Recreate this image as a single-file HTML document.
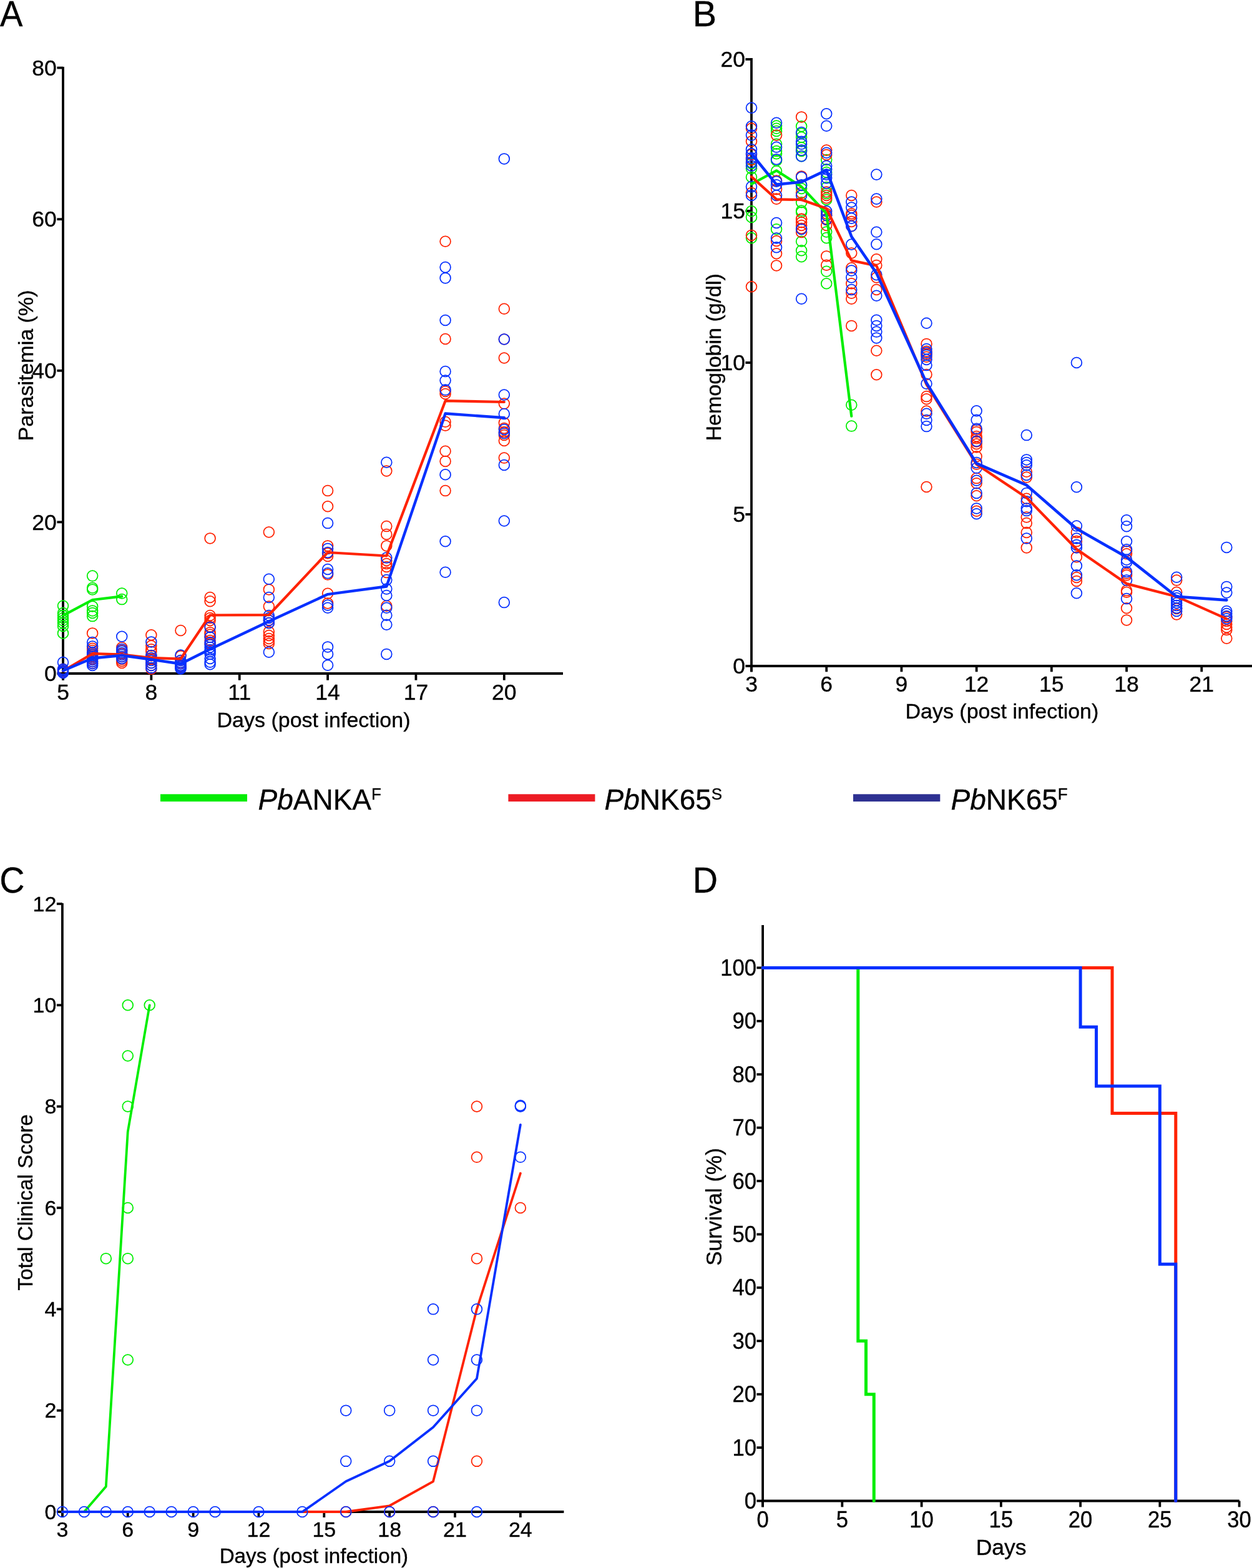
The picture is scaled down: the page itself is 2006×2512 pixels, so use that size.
<!DOCTYPE html><html><head><meta charset="utf-8"><title>Figure</title>
<style>html,body{margin:0;padding:0;background:#fff;overflow:hidden;}svg{display:block;}text{font-family:'Liberation Sans', Arial, Helvetica, sans-serif;fill:#000;stroke:#000;stroke-width:0.35px;}</style></head><body>
<svg width="2006" height="2512" viewBox="0 0 2006 2512">
<rect width="2006" height="2512" fill="#fff"/>
<text font-size="57.5" transform="translate(0 41.6) scale(0.95 1)">A</text>
<text font-size="57.5" transform="translate(1109.8 42) scale(1 1)">B</text>
<text font-size="57.5" transform="translate(-0.8 1430) scale(0.97 1)">C</text>
<text font-size="57.5" transform="translate(1109.8 1430.1) scale(0.97 1)">D</text>
<line x1="101" y1="107" x2="101" y2="1089.7" stroke="#000" stroke-width="3.8" stroke-linecap="butt"/>
<line x1="101" y1="1079" x2="902" y2="1079" stroke="#000" stroke-width="3.8" stroke-linecap="butt"/>
<line x1="91.4" y1="1079" x2="101" y2="1079" stroke="#000" stroke-width="3.8" stroke-linecap="butt"/>
<text x="90.8" y="1091.21" font-size="35.5" text-anchor="end">0</text>
<line x1="91.4" y1="836.4" x2="101" y2="836.4" stroke="#000" stroke-width="3.8" stroke-linecap="butt"/>
<text x="90.8" y="848.61" font-size="35.5" text-anchor="end">20</text>
<line x1="91.4" y1="593.8" x2="101" y2="593.8" stroke="#000" stroke-width="3.8" stroke-linecap="butt"/>
<text x="90.8" y="606.01" font-size="35.5" text-anchor="end">40</text>
<line x1="91.4" y1="351.2" x2="101" y2="351.2" stroke="#000" stroke-width="3.8" stroke-linecap="butt"/>
<text x="90.8" y="363.41" font-size="35.5" text-anchor="end">60</text>
<line x1="91.4" y1="108.6" x2="101" y2="108.6" stroke="#000" stroke-width="3.8" stroke-linecap="butt"/>
<text x="90.8" y="120.81" font-size="35.5" text-anchor="end">80</text>
<line x1="101" y1="1079" x2="101" y2="1089.7" stroke="#000" stroke-width="3.8" stroke-linecap="butt"/>
<text x="101" y="1120.6" font-size="35.5" text-anchor="middle">5</text>
<line x1="242.36" y1="1079" x2="242.36" y2="1089.7" stroke="#000" stroke-width="3.8" stroke-linecap="butt"/>
<text x="242.36" y="1120.6" font-size="35.5" text-anchor="middle">8</text>
<line x1="383.72" y1="1079" x2="383.72" y2="1089.7" stroke="#000" stroke-width="3.8" stroke-linecap="butt"/>
<text x="383.72" y="1120.6" font-size="35.5" text-anchor="middle">11</text>
<line x1="525.08" y1="1079" x2="525.08" y2="1089.7" stroke="#000" stroke-width="3.8" stroke-linecap="butt"/>
<text x="525.08" y="1120.6" font-size="35.5" text-anchor="middle">14</text>
<line x1="666.44" y1="1079" x2="666.44" y2="1089.7" stroke="#000" stroke-width="3.8" stroke-linecap="butt"/>
<text x="666.44" y="1120.6" font-size="35.5" text-anchor="middle">17</text>
<line x1="807.8" y1="1079" x2="807.8" y2="1089.7" stroke="#000" stroke-width="3.8" stroke-linecap="butt"/>
<text x="807.8" y="1120.6" font-size="35.5" text-anchor="middle">20</text>
<text x="502.5" y="1164.9" font-size="34" text-anchor="middle">Days (post infection)</text>
<text x="0" y="0" font-size="34" text-anchor="middle" transform="translate(52.6 585.5) rotate(-90)">Parasitemia (%)</text>
<g fill="none" stroke="#00ee00" stroke-width="1.75">
<circle cx="101" cy="970.6" r="8.4"/>
<circle cx="101" cy="982" r="8.4"/>
<circle cx="101" cy="986" r="8.4"/>
<circle cx="101" cy="990" r="8.4"/>
<circle cx="101" cy="994" r="8.4"/>
<circle cx="101" cy="998" r="8.4"/>
<circle cx="101" cy="1003" r="8.4"/>
<circle cx="101" cy="1014.4" r="8.4"/>
<circle cx="148.12" cy="922.6" r="8.4"/>
<circle cx="148.12" cy="941.8" r="8.4"/>
<circle cx="148.12" cy="944.4" r="8.4"/>
<circle cx="148.12" cy="971.4" r="8.4"/>
<circle cx="148.12" cy="978.4" r="8.4"/>
<circle cx="148.12" cy="981.9" r="8.4"/>
<circle cx="148.12" cy="987.1" r="8.4"/>
<circle cx="195.24" cy="950.5" r="8.4"/>
<circle cx="195.24" cy="960.1" r="8.4"/>
</g>
<g fill="none" stroke="#ff2200" stroke-width="1.75">
<circle cx="101" cy="1072" r="8.4"/>
<circle cx="101" cy="1075" r="8.4"/>
<circle cx="101" cy="1077" r="8.4"/>
<circle cx="148.12" cy="1014.4" r="8.4"/>
<circle cx="148.12" cy="1038.8" r="8.4"/>
<circle cx="148.12" cy="1042" r="8.4"/>
<circle cx="148.12" cy="1046" r="8.4"/>
<circle cx="148.12" cy="1049" r="8.4"/>
<circle cx="148.12" cy="1052" r="8.4"/>
<circle cx="148.12" cy="1056" r="8.4"/>
<circle cx="148.12" cy="1060" r="8.4"/>
<circle cx="148.12" cy="1063" r="8.4"/>
<circle cx="195.24" cy="1037.2" r="8.4"/>
<circle cx="195.24" cy="1042" r="8.4"/>
<circle cx="195.24" cy="1047" r="8.4"/>
<circle cx="195.24" cy="1052" r="8.4"/>
<circle cx="195.24" cy="1056" r="8.4"/>
<circle cx="195.24" cy="1059" r="8.4"/>
<circle cx="195.24" cy="1062" r="8.4"/>
<circle cx="242.36" cy="1017.2" r="8.4"/>
<circle cx="242.36" cy="1034.6" r="8.4"/>
<circle cx="242.36" cy="1040.2" r="8.4"/>
<circle cx="242.36" cy="1043.9" r="8.4"/>
<circle cx="242.36" cy="1050.4" r="8.4"/>
<circle cx="242.36" cy="1056" r="8.4"/>
<circle cx="242.36" cy="1062" r="8.4"/>
<circle cx="242.36" cy="1066" r="8.4"/>
<circle cx="242.36" cy="1071.8" r="8.4"/>
<circle cx="289.48" cy="1010" r="8.4"/>
<circle cx="289.48" cy="1051" r="8.4"/>
<circle cx="289.48" cy="1058" r="8.4"/>
<circle cx="289.48" cy="1063" r="8.4"/>
<circle cx="289.48" cy="1067" r="8.4"/>
<circle cx="289.48" cy="1070" r="8.4"/>
<circle cx="336.6" cy="862.4" r="8.4"/>
<circle cx="336.6" cy="957" r="8.4"/>
<circle cx="336.6" cy="963.2" r="8.4"/>
<circle cx="336.6" cy="986" r="8.4"/>
<circle cx="336.6" cy="990" r="8.4"/>
<circle cx="336.6" cy="994" r="8.4"/>
<circle cx="336.6" cy="1004" r="8.4"/>
<circle cx="336.6" cy="1013.2" r="8.4"/>
<circle cx="336.6" cy="1016.5" r="8.4"/>
<circle cx="336.6" cy="1020.7" r="8.4"/>
<circle cx="336.6" cy="1026" r="8.4"/>
<circle cx="336.6" cy="1031" r="8.4"/>
<circle cx="430.84" cy="852.5" r="8.4"/>
<circle cx="430.84" cy="944.4" r="8.4"/>
<circle cx="430.84" cy="971.6" r="8.4"/>
<circle cx="430.84" cy="993.5" r="8.4"/>
<circle cx="430.84" cy="998" r="8.4"/>
<circle cx="430.84" cy="1012" r="8.4"/>
<circle cx="430.84" cy="1018" r="8.4"/>
<circle cx="430.84" cy="1023" r="8.4"/>
<circle cx="430.84" cy="1027" r="8.4"/>
<circle cx="430.84" cy="1031" r="8.4"/>
<circle cx="525.08" cy="786.1" r="8.4"/>
<circle cx="525.08" cy="811.3" r="8.4"/>
<circle cx="525.08" cy="874.4" r="8.4"/>
<circle cx="525.08" cy="886.5" r="8.4"/>
<circle cx="525.08" cy="891" r="8.4"/>
<circle cx="525.08" cy="920.4" r="8.4"/>
<circle cx="525.08" cy="950.7" r="8.4"/>
<circle cx="525.08" cy="966.4" r="8.4"/>
<circle cx="619.32" cy="754.4" r="8.4"/>
<circle cx="619.32" cy="843.1" r="8.4"/>
<circle cx="619.32" cy="856" r="8.4"/>
<circle cx="619.32" cy="874.4" r="8.4"/>
<circle cx="619.32" cy="898" r="8.4"/>
<circle cx="619.32" cy="903" r="8.4"/>
<circle cx="619.32" cy="908" r="8.4"/>
<circle cx="619.32" cy="917" r="8.4"/>
<circle cx="619.32" cy="970.7" r="8.4"/>
<circle cx="713.56" cy="386.8" r="8.4"/>
<circle cx="713.56" cy="543" r="8.4"/>
<circle cx="713.56" cy="627" r="8.4"/>
<circle cx="713.56" cy="631" r="8.4"/>
<circle cx="713.56" cy="675.7" r="8.4"/>
<circle cx="713.56" cy="681.8" r="8.4"/>
<circle cx="713.56" cy="722.7" r="8.4"/>
<circle cx="713.56" cy="738.9" r="8.4"/>
<circle cx="713.56" cy="786.1" r="8.4"/>
<circle cx="807.8" cy="494.7" r="8.4"/>
<circle cx="807.8" cy="543.5" r="8.4"/>
<circle cx="807.8" cy="573.5" r="8.4"/>
<circle cx="807.8" cy="646.6" r="8.4"/>
<circle cx="807.8" cy="677.4" r="8.4"/>
<circle cx="807.8" cy="686" r="8.4"/>
<circle cx="807.8" cy="692" r="8.4"/>
<circle cx="807.8" cy="697" r="8.4"/>
<circle cx="807.8" cy="706" r="8.4"/>
<circle cx="807.8" cy="733.6" r="8.4"/>
</g>
<g fill="none" stroke="#0630ff" stroke-width="1.75">
<circle cx="101" cy="1061.1" r="8.4"/>
<circle cx="101" cy="1072" r="8.4"/>
<circle cx="101" cy="1074" r="8.4"/>
<circle cx="101" cy="1076" r="8.4"/>
<circle cx="101" cy="1078" r="8.4"/>
<circle cx="148.12" cy="1029" r="8.4"/>
<circle cx="148.12" cy="1035.5" r="8.4"/>
<circle cx="148.12" cy="1045" r="8.4"/>
<circle cx="148.12" cy="1048" r="8.4"/>
<circle cx="148.12" cy="1051" r="8.4"/>
<circle cx="148.12" cy="1054" r="8.4"/>
<circle cx="148.12" cy="1057" r="8.4"/>
<circle cx="148.12" cy="1060" r="8.4"/>
<circle cx="148.12" cy="1063" r="8.4"/>
<circle cx="148.12" cy="1066" r="8.4"/>
<circle cx="195.24" cy="1019.7" r="8.4"/>
<circle cx="195.24" cy="1040" r="8.4"/>
<circle cx="195.24" cy="1043" r="8.4"/>
<circle cx="195.24" cy="1046" r="8.4"/>
<circle cx="195.24" cy="1049" r="8.4"/>
<circle cx="195.24" cy="1052" r="8.4"/>
<circle cx="195.24" cy="1055" r="8.4"/>
<circle cx="242.36" cy="1028.4" r="8.4"/>
<circle cx="242.36" cy="1050" r="8.4"/>
<circle cx="242.36" cy="1054" r="8.4"/>
<circle cx="242.36" cy="1058" r="8.4"/>
<circle cx="242.36" cy="1062" r="8.4"/>
<circle cx="242.36" cy="1066" r="8.4"/>
<circle cx="242.36" cy="1070" r="8.4"/>
<circle cx="289.48" cy="1049.5" r="8.4"/>
<circle cx="289.48" cy="1058" r="8.4"/>
<circle cx="289.48" cy="1061" r="8.4"/>
<circle cx="289.48" cy="1063.5" r="8.4"/>
<circle cx="289.48" cy="1066" r="8.4"/>
<circle cx="289.48" cy="1068" r="8.4"/>
<circle cx="289.48" cy="1070" r="8.4"/>
<circle cx="289.48" cy="1071.5" r="8.4"/>
<circle cx="336.6" cy="1004.9" r="8.4"/>
<circle cx="336.6" cy="1020.7" r="8.4"/>
<circle cx="336.6" cy="1029" r="8.4"/>
<circle cx="336.6" cy="1033" r="8.4"/>
<circle cx="336.6" cy="1037" r="8.4"/>
<circle cx="336.6" cy="1041" r="8.4"/>
<circle cx="336.6" cy="1044" r="8.4"/>
<circle cx="336.6" cy="1047.6" r="8.4"/>
<circle cx="336.6" cy="1055" r="8.4"/>
<circle cx="336.6" cy="1060.6" r="8.4"/>
<circle cx="336.6" cy="1064.3" r="8.4"/>
<circle cx="430.84" cy="927.7" r="8.4"/>
<circle cx="430.84" cy="957" r="8.4"/>
<circle cx="430.84" cy="986" r="8.4"/>
<circle cx="430.84" cy="990" r="8.4"/>
<circle cx="430.84" cy="994" r="8.4"/>
<circle cx="430.84" cy="998" r="8.4"/>
<circle cx="430.84" cy="1044.8" r="8.4"/>
<circle cx="525.08" cy="838.1" r="8.4"/>
<circle cx="525.08" cy="878.9" r="8.4"/>
<circle cx="525.08" cy="885" r="8.4"/>
<circle cx="525.08" cy="912" r="8.4"/>
<circle cx="525.08" cy="918.3" r="8.4"/>
<circle cx="525.08" cy="969.5" r="8.4"/>
<circle cx="525.08" cy="973.7" r="8.4"/>
<circle cx="525.08" cy="1036.4" r="8.4"/>
<circle cx="525.08" cy="1047.9" r="8.4"/>
<circle cx="525.08" cy="1065.7" r="8.4"/>
<circle cx="619.32" cy="740.8" r="8.4"/>
<circle cx="619.32" cy="893.6" r="8.4"/>
<circle cx="619.32" cy="929.1" r="8.4"/>
<circle cx="619.32" cy="943.5" r="8.4"/>
<circle cx="619.32" cy="954" r="8.4"/>
<circle cx="619.32" cy="973.7" r="8.4"/>
<circle cx="619.32" cy="985.8" r="8.4"/>
<circle cx="619.32" cy="1000.8" r="8.4"/>
<circle cx="619.32" cy="1047.9" r="8.4"/>
<circle cx="713.56" cy="428.1" r="8.4"/>
<circle cx="713.56" cy="445.4" r="8.4"/>
<circle cx="713.56" cy="513" r="8.4"/>
<circle cx="713.56" cy="595" r="8.4"/>
<circle cx="713.56" cy="609.6" r="8.4"/>
<circle cx="713.56" cy="624.6" r="8.4"/>
<circle cx="713.56" cy="760.3" r="8.4"/>
<circle cx="713.56" cy="867.2" r="8.4"/>
<circle cx="713.56" cy="916.8" r="8.4"/>
<circle cx="807.8" cy="254.4" r="8.4"/>
<circle cx="807.8" cy="543.5" r="8.4"/>
<circle cx="807.8" cy="632.5" r="8.4"/>
<circle cx="807.8" cy="663" r="8.4"/>
<circle cx="807.8" cy="688" r="8.4"/>
<circle cx="807.8" cy="694.2" r="8.4"/>
<circle cx="807.8" cy="744.9" r="8.4"/>
<circle cx="807.8" cy="834.5" r="8.4"/>
<circle cx="807.8" cy="965.1" r="8.4"/>
</g>
<polyline points="101,986.2 148.12,961 195.24,955.4" fill="none" stroke="#00ee00" stroke-width="4.2" stroke-linecap="round" stroke-linejoin="round"/>
<polyline points="101,1075 148.12,1047.2 195.24,1048.5 242.36,1054 289.48,1055.5 336.6,985.5 430.84,985.2 525.08,885 619.32,890.5 713.56,642.2 807.8,644" fill="none" stroke="#ff2200" stroke-width="4.2" stroke-linecap="round" stroke-linejoin="round"/>
<polyline points="101,1074.5 148.12,1054.5 195.24,1050 242.36,1056.5 289.48,1063.5 336.6,1040 430.84,995.6 525.08,952.1 619.32,939.5 713.56,662.5 807.8,669.2" fill="none" stroke="#0630ff" stroke-width="4.4" stroke-linecap="round" stroke-linejoin="round"/>
<line x1="1204" y1="93" x2="1204" y2="1076.3" stroke="#000" stroke-width="3.8" stroke-linecap="butt"/>
<line x1="1204" y1="1067" x2="2006" y2="1067" stroke="#000" stroke-width="3.8" stroke-linecap="butt"/>
<line x1="1194.4" y1="1067" x2="1204" y2="1067" stroke="#000" stroke-width="3.8" stroke-linecap="butt"/>
<text x="1194" y="1079.21" font-size="35.5" text-anchor="end">0</text>
<line x1="1194.4" y1="824" x2="1204" y2="824" stroke="#000" stroke-width="3.8" stroke-linecap="butt"/>
<text x="1194" y="836.21" font-size="35.5" text-anchor="end">5</text>
<line x1="1194.4" y1="581" x2="1204" y2="581" stroke="#000" stroke-width="3.8" stroke-linecap="butt"/>
<text x="1194" y="593.21" font-size="35.5" text-anchor="end">10</text>
<line x1="1194.4" y1="338" x2="1204" y2="338" stroke="#000" stroke-width="3.8" stroke-linecap="butt"/>
<text x="1194" y="350.21" font-size="35.5" text-anchor="end">15</text>
<line x1="1194.4" y1="95" x2="1204" y2="95" stroke="#000" stroke-width="3.8" stroke-linecap="butt"/>
<text x="1194" y="107.21" font-size="35.5" text-anchor="end">20</text>
<line x1="1204" y1="1067" x2="1204" y2="1076.3" stroke="#000" stroke-width="3.8" stroke-linecap="butt"/>
<text x="1204" y="1107.5" font-size="35.5" text-anchor="middle">3</text>
<line x1="1324.21" y1="1067" x2="1324.21" y2="1076.3" stroke="#000" stroke-width="3.8" stroke-linecap="butt"/>
<text x="1324.21" y="1107.5" font-size="35.5" text-anchor="middle">6</text>
<line x1="1444.42" y1="1067" x2="1444.42" y2="1076.3" stroke="#000" stroke-width="3.8" stroke-linecap="butt"/>
<text x="1444.42" y="1107.5" font-size="35.5" text-anchor="middle">9</text>
<line x1="1564.63" y1="1067" x2="1564.63" y2="1076.3" stroke="#000" stroke-width="3.8" stroke-linecap="butt"/>
<text x="1564.63" y="1107.5" font-size="35.5" text-anchor="middle">12</text>
<line x1="1684.84" y1="1067" x2="1684.84" y2="1076.3" stroke="#000" stroke-width="3.8" stroke-linecap="butt"/>
<text x="1684.84" y="1107.5" font-size="35.5" text-anchor="middle">15</text>
<line x1="1805.05" y1="1067" x2="1805.05" y2="1076.3" stroke="#000" stroke-width="3.8" stroke-linecap="butt"/>
<text x="1805.05" y="1107.5" font-size="35.5" text-anchor="middle">18</text>
<line x1="1925.26" y1="1067" x2="1925.26" y2="1076.3" stroke="#000" stroke-width="3.8" stroke-linecap="butt"/>
<text x="1925.26" y="1107.5" font-size="35.5" text-anchor="middle">21</text>
<text x="1605.4" y="1150.9" font-size="34" text-anchor="middle">Days (post infection)</text>
<text x="0" y="0" font-size="34" text-anchor="middle" transform="translate(1154.9 572.3) rotate(-90)">Hemoglobin (g/dl)</text>
<g fill="none" stroke="#00ee00" stroke-width="1.75">
<circle cx="1204" cy="262" r="8.4"/>
<circle cx="1204" cy="269.9" r="8.4"/>
<circle cx="1204" cy="283.8" r="8.4"/>
<circle cx="1204" cy="338.2" r="8.4"/>
<circle cx="1204" cy="347.9" r="8.4"/>
<circle cx="1204" cy="381.1" r="8.4"/>
<circle cx="1244.07" cy="201.6" r="8.4"/>
<circle cx="1244.07" cy="205.7" r="8.4"/>
<circle cx="1244.07" cy="210" r="8.4"/>
<circle cx="1244.07" cy="230.8" r="8.4"/>
<circle cx="1244.07" cy="242" r="8.4"/>
<circle cx="1244.07" cy="246.2" r="8.4"/>
<circle cx="1244.07" cy="257.3" r="8.4"/>
<circle cx="1244.07" cy="274" r="8.4"/>
<circle cx="1244.07" cy="367.2" r="8.4"/>
<circle cx="1284.14" cy="202.3" r="8.4"/>
<circle cx="1284.14" cy="214" r="8.4"/>
<circle cx="1284.14" cy="219.7" r="8.4"/>
<circle cx="1284.14" cy="236.4" r="8.4"/>
<circle cx="1284.14" cy="242" r="8.4"/>
<circle cx="1284.14" cy="250.3" r="8.4"/>
<circle cx="1284.14" cy="297" r="8.4"/>
<circle cx="1284.14" cy="302" r="8.4"/>
<circle cx="1284.14" cy="324.2" r="8.4"/>
<circle cx="1284.14" cy="337.5" r="8.4"/>
<circle cx="1284.14" cy="340" r="8.4"/>
<circle cx="1284.14" cy="386.7" r="8.4"/>
<circle cx="1284.14" cy="401.3" r="8.4"/>
<circle cx="1284.14" cy="411.1" r="8.4"/>
<circle cx="1324.21" cy="255.9" r="8.4"/>
<circle cx="1324.21" cy="276" r="8.4"/>
<circle cx="1324.21" cy="300" r="8.4"/>
<circle cx="1324.21" cy="310" r="8.4"/>
<circle cx="1324.21" cy="320" r="8.4"/>
<circle cx="1324.21" cy="371.4" r="8.4"/>
<circle cx="1324.21" cy="381.1" r="8.4"/>
<circle cx="1324.21" cy="434.8" r="8.4"/>
<circle cx="1324.21" cy="454.3" r="8.4"/>
<circle cx="1364.28" cy="648.8" r="8.4"/>
<circle cx="1364.28" cy="682.6" r="8.4"/>
</g>
<g fill="none" stroke="#ff2200" stroke-width="1.75">
<circle cx="1204" cy="205.7" r="8.4"/>
<circle cx="1204" cy="226.4" r="8.4"/>
<circle cx="1204" cy="247.6" r="8.4"/>
<circle cx="1204" cy="255.9" r="8.4"/>
<circle cx="1204" cy="308.9" r="8.4"/>
<circle cx="1204" cy="376.9" r="8.4"/>
<circle cx="1204" cy="459.2" r="8.4"/>
<circle cx="1244.07" cy="216.6" r="8.4"/>
<circle cx="1244.07" cy="289.4" r="8.4"/>
<circle cx="1244.07" cy="303.3" r="8.4"/>
<circle cx="1244.07" cy="318.6" r="8.4"/>
<circle cx="1244.07" cy="386" r="8.4"/>
<circle cx="1244.07" cy="406.2" r="8.4"/>
<circle cx="1244.07" cy="425.4" r="8.4"/>
<circle cx="1284.14" cy="187.4" r="8.4"/>
<circle cx="1284.14" cy="282.4" r="8.4"/>
<circle cx="1284.14" cy="308.9" r="8.4"/>
<circle cx="1284.14" cy="350.7" r="8.4"/>
<circle cx="1284.14" cy="356.3" r="8.4"/>
<circle cx="1284.14" cy="351.1" r="8.4"/>
<circle cx="1284.14" cy="361" r="8.4"/>
<circle cx="1284.14" cy="366" r="8.4"/>
<circle cx="1284.14" cy="372" r="8.4"/>
<circle cx="1324.21" cy="240.6" r="8.4"/>
<circle cx="1324.21" cy="248" r="8.4"/>
<circle cx="1324.21" cy="307.5" r="8.4"/>
<circle cx="1324.21" cy="313" r="8.4"/>
<circle cx="1324.21" cy="317.2" r="8.4"/>
<circle cx="1324.21" cy="342.3" r="8.4"/>
<circle cx="1324.21" cy="350.7" r="8.4"/>
<circle cx="1324.21" cy="345" r="8.4"/>
<circle cx="1324.21" cy="352" r="8.4"/>
<circle cx="1324.21" cy="361" r="8.4"/>
<circle cx="1324.21" cy="410.4" r="8.4"/>
<circle cx="1324.21" cy="424.7" r="8.4"/>
<circle cx="1364.28" cy="313" r="8.4"/>
<circle cx="1364.28" cy="342.3" r="8.4"/>
<circle cx="1364.28" cy="345" r="8.4"/>
<circle cx="1364.28" cy="355" r="8.4"/>
<circle cx="1364.28" cy="362.3" r="8.4"/>
<circle cx="1364.28" cy="405.5" r="8.4"/>
<circle cx="1364.28" cy="429.2" r="8.4"/>
<circle cx="1364.28" cy="454.3" r="8.4"/>
<circle cx="1364.28" cy="469.6" r="8.4"/>
<circle cx="1364.28" cy="478.7" r="8.4"/>
<circle cx="1364.28" cy="521.9" r="8.4"/>
<circle cx="1404.35" cy="323.5" r="8.4"/>
<circle cx="1404.35" cy="415.3" r="8.4"/>
<circle cx="1404.35" cy="425" r="8.4"/>
<circle cx="1404.35" cy="444.5" r="8.4"/>
<circle cx="1404.35" cy="464" r="8.4"/>
<circle cx="1404.35" cy="561.7" r="8.4"/>
<circle cx="1404.35" cy="600.2" r="8.4"/>
<circle cx="1484.49" cy="550.9" r="8.4"/>
<circle cx="1484.49" cy="562.7" r="8.4"/>
<circle cx="1484.49" cy="566.7" r="8.4"/>
<circle cx="1484.49" cy="571.8" r="8.4"/>
<circle cx="1484.49" cy="599.9" r="8.4"/>
<circle cx="1484.49" cy="635.1" r="8.4"/>
<circle cx="1484.49" cy="639.2" r="8.4"/>
<circle cx="1484.49" cy="658.6" r="8.4"/>
<circle cx="1484.49" cy="780" r="8.4"/>
<circle cx="1564.63" cy="688.7" r="8.4"/>
<circle cx="1564.63" cy="691.9" r="8.4"/>
<circle cx="1564.63" cy="698.9" r="8.4"/>
<circle cx="1564.63" cy="702.3" r="8.4"/>
<circle cx="1564.63" cy="707.6" r="8.4"/>
<circle cx="1564.63" cy="711.2" r="8.4"/>
<circle cx="1564.63" cy="716.4" r="8.4"/>
<circle cx="1564.63" cy="731.2" r="8.4"/>
<circle cx="1564.63" cy="743.8" r="8.4"/>
<circle cx="1564.63" cy="766.1" r="8.4"/>
<circle cx="1564.63" cy="774.3" r="8.4"/>
<circle cx="1564.63" cy="794.3" r="8.4"/>
<circle cx="1564.63" cy="818.8" r="8.4"/>
<circle cx="1644.77" cy="755.7" r="8.4"/>
<circle cx="1644.77" cy="764.6" r="8.4"/>
<circle cx="1644.77" cy="798.8" r="8.4"/>
<circle cx="1644.77" cy="828.5" r="8.4"/>
<circle cx="1644.77" cy="838.1" r="8.4"/>
<circle cx="1644.77" cy="853" r="8.4"/>
<circle cx="1644.77" cy="877.4" r="8.4"/>
<circle cx="1724.91" cy="852.9" r="8.4"/>
<circle cx="1724.91" cy="867.1" r="8.4"/>
<circle cx="1724.91" cy="892.3" r="8.4"/>
<circle cx="1724.91" cy="925" r="8.4"/>
<circle cx="1724.91" cy="930.9" r="8.4"/>
<circle cx="1805.05" cy="883" r="8.4"/>
<circle cx="1805.05" cy="887.2" r="8.4"/>
<circle cx="1805.05" cy="918.7" r="8.4"/>
<circle cx="1805.05" cy="921.4" r="8.4"/>
<circle cx="1805.05" cy="946.1" r="8.4"/>
<circle cx="1805.05" cy="948.8" r="8.4"/>
<circle cx="1805.05" cy="974.2" r="8.4"/>
<circle cx="1805.05" cy="993.4" r="8.4"/>
<circle cx="1885.19" cy="929.6" r="8.4"/>
<circle cx="1885.19" cy="948.8" r="8.4"/>
<circle cx="1885.19" cy="975" r="8.4"/>
<circle cx="1885.19" cy="984.5" r="8.4"/>
<circle cx="1965.33" cy="988.6" r="8.4"/>
<circle cx="1965.33" cy="995" r="8.4"/>
<circle cx="1965.33" cy="1000" r="8.4"/>
<circle cx="1965.33" cy="1005" r="8.4"/>
<circle cx="1965.33" cy="1009.1" r="8.4"/>
<circle cx="1965.33" cy="1022.8" r="8.4"/>
</g>
<g fill="none" stroke="#0630ff" stroke-width="1.75">
<circle cx="1204" cy="172.7" r="8.4"/>
<circle cx="1204" cy="202.3" r="8.4"/>
<circle cx="1204" cy="216.6" r="8.4"/>
<circle cx="1204" cy="239.2" r="8.4"/>
<circle cx="1204" cy="246.2" r="8.4"/>
<circle cx="1204" cy="253.1" r="8.4"/>
<circle cx="1204" cy="260.1" r="8.4"/>
<circle cx="1204" cy="265.7" r="8.4"/>
<circle cx="1204" cy="299.1" r="8.4"/>
<circle cx="1204" cy="313" r="8.4"/>
<circle cx="1244.07" cy="196.7" r="8.4"/>
<circle cx="1244.07" cy="235.7" r="8.4"/>
<circle cx="1244.07" cy="255.2" r="8.4"/>
<circle cx="1244.07" cy="290.8" r="8.4"/>
<circle cx="1244.07" cy="296.3" r="8.4"/>
<circle cx="1244.07" cy="313" r="8.4"/>
<circle cx="1244.07" cy="357" r="8.4"/>
<circle cx="1244.07" cy="381.5" r="8.4"/>
<circle cx="1244.07" cy="396.2" r="8.4"/>
<circle cx="1284.14" cy="212" r="8.4"/>
<circle cx="1284.14" cy="226.7" r="8.4"/>
<circle cx="1284.14" cy="230.8" r="8.4"/>
<circle cx="1284.14" cy="240.6" r="8.4"/>
<circle cx="1284.14" cy="250.3" r="8.4"/>
<circle cx="1284.14" cy="283.8" r="8.4"/>
<circle cx="1284.14" cy="296.3" r="8.4"/>
<circle cx="1284.14" cy="313" r="8.4"/>
<circle cx="1284.14" cy="367.2" r="8.4"/>
<circle cx="1284.14" cy="478.7" r="8.4"/>
<circle cx="1324.21" cy="182.3" r="8.4"/>
<circle cx="1324.21" cy="201.8" r="8.4"/>
<circle cx="1324.21" cy="244.8" r="8.4"/>
<circle cx="1324.21" cy="265.7" r="8.4"/>
<circle cx="1324.21" cy="271.3" r="8.4"/>
<circle cx="1324.21" cy="279.6" r="8.4"/>
<circle cx="1324.21" cy="285.2" r="8.4"/>
<circle cx="1324.21" cy="293.5" r="8.4"/>
<circle cx="1324.21" cy="338.2" r="8.4"/>
<circle cx="1324.21" cy="345" r="8.4"/>
<circle cx="1324.21" cy="351.8" r="8.4"/>
<circle cx="1364.28" cy="323.5" r="8.4"/>
<circle cx="1364.28" cy="332.6" r="8.4"/>
<circle cx="1364.28" cy="349.8" r="8.4"/>
<circle cx="1364.28" cy="362.3" r="8.4"/>
<circle cx="1364.28" cy="391.6" r="8.4"/>
<circle cx="1364.28" cy="433.4" r="8.4"/>
<circle cx="1364.28" cy="444.5" r="8.4"/>
<circle cx="1364.28" cy="464" r="8.4"/>
<circle cx="1404.35" cy="279.6" r="8.4"/>
<circle cx="1404.35" cy="318.6" r="8.4"/>
<circle cx="1404.35" cy="371.8" r="8.4"/>
<circle cx="1404.35" cy="391.3" r="8.4"/>
<circle cx="1404.35" cy="440.1" r="8.4"/>
<circle cx="1404.35" cy="473.8" r="8.4"/>
<circle cx="1404.35" cy="512.8" r="8.4"/>
<circle cx="1404.35" cy="521.9" r="8.4"/>
<circle cx="1404.35" cy="531.6" r="8.4"/>
<circle cx="1404.35" cy="541.4" r="8.4"/>
<circle cx="1484.49" cy="517.8" r="8.4"/>
<circle cx="1484.49" cy="559.1" r="8.4"/>
<circle cx="1484.49" cy="564.7" r="8.4"/>
<circle cx="1484.49" cy="568.8" r="8.4"/>
<circle cx="1484.49" cy="575.9" r="8.4"/>
<circle cx="1484.49" cy="585.1" r="8.4"/>
<circle cx="1484.49" cy="614.7" r="8.4"/>
<circle cx="1484.49" cy="662.7" r="8.4"/>
<circle cx="1484.49" cy="672.9" r="8.4"/>
<circle cx="1484.49" cy="683.1" r="8.4"/>
<circle cx="1564.63" cy="658.2" r="8.4"/>
<circle cx="1564.63" cy="672.8" r="8.4"/>
<circle cx="1564.63" cy="686.7" r="8.4"/>
<circle cx="1564.63" cy="706.7" r="8.4"/>
<circle cx="1564.63" cy="740.9" r="8.4"/>
<circle cx="1564.63" cy="749.8" r="8.4"/>
<circle cx="1564.63" cy="769.8" r="8.4"/>
<circle cx="1564.63" cy="789.9" r="8.4"/>
<circle cx="1564.63" cy="814.4" r="8.4"/>
<circle cx="1564.63" cy="823.3" r="8.4"/>
<circle cx="1644.77" cy="697.1" r="8.4"/>
<circle cx="1644.77" cy="736.4" r="8.4"/>
<circle cx="1644.77" cy="740.9" r="8.4"/>
<circle cx="1644.77" cy="745.3" r="8.4"/>
<circle cx="1644.77" cy="760.9" r="8.4"/>
<circle cx="1644.77" cy="789.9" r="8.4"/>
<circle cx="1644.77" cy="803.2" r="8.4"/>
<circle cx="1644.77" cy="814.4" r="8.4"/>
<circle cx="1644.77" cy="818.1" r="8.4"/>
<circle cx="1644.77" cy="862.6" r="8.4"/>
<circle cx="1724.91" cy="581" r="8.4"/>
<circle cx="1724.91" cy="780.2" r="8.4"/>
<circle cx="1724.91" cy="842.6" r="8.4"/>
<circle cx="1724.91" cy="862.6" r="8.4"/>
<circle cx="1724.91" cy="873" r="8.4"/>
<circle cx="1724.91" cy="877.4" r="8.4"/>
<circle cx="1724.91" cy="906.4" r="8.4"/>
<circle cx="1724.91" cy="921.2" r="8.4"/>
<circle cx="1724.91" cy="950.2" r="8.4"/>
<circle cx="1805.05" cy="833.3" r="8.4"/>
<circle cx="1805.05" cy="843.3" r="8.4"/>
<circle cx="1805.05" cy="867.3" r="8.4"/>
<circle cx="1805.05" cy="880.3" r="8.4"/>
<circle cx="1805.05" cy="896.7" r="8.4"/>
<circle cx="1805.05" cy="900.9" r="8.4"/>
<circle cx="1805.05" cy="915.9" r="8.4"/>
<circle cx="1805.05" cy="929.6" r="8.4"/>
<circle cx="1805.05" cy="959.1" r="8.4"/>
<circle cx="1885.19" cy="924.8" r="8.4"/>
<circle cx="1885.19" cy="954.3" r="8.4"/>
<circle cx="1885.19" cy="958" r="8.4"/>
<circle cx="1885.19" cy="962" r="8.4"/>
<circle cx="1885.19" cy="966" r="8.4"/>
<circle cx="1885.19" cy="970" r="8.4"/>
<circle cx="1885.19" cy="974" r="8.4"/>
<circle cx="1885.19" cy="979" r="8.4"/>
<circle cx="1965.33" cy="876.9" r="8.4"/>
<circle cx="1965.33" cy="939.9" r="8.4"/>
<circle cx="1965.33" cy="949.5" r="8.4"/>
<circle cx="1965.33" cy="979" r="8.4"/>
<circle cx="1965.33" cy="983" r="8.4"/>
<circle cx="1965.33" cy="987" r="8.4"/>
<circle cx="1965.33" cy="991.3" r="8.4"/>
</g>
<polyline points="1204,295 1244.07,273.3 1284.14,299.1 1324.21,342 1364.28,666.7" fill="none" stroke="#00ee00" stroke-width="4.2" stroke-linecap="round" stroke-linejoin="round"/>
<polyline points="1204,283.1 1244.07,319.3 1284.14,320 1324.21,334 1364.28,417.4 1404.35,425.7 1484.49,616 1564.63,743.8 1644.77,797.3 1724.91,879.7 1805.05,935.1 1885.19,955.7 1965.33,991.3" fill="none" stroke="#ff2200" stroke-width="4.2" stroke-linecap="round" stroke-linejoin="round"/>
<polyline points="1204,246.2 1244.07,295.6 1284.14,291.5 1324.21,272.6 1364.28,379 1404.35,437.6 1484.49,613.5 1564.63,742.4 1644.77,777.2 1724.91,847 1805.05,892.6 1885.19,955.7 1965.33,961.4" fill="none" stroke="#0630ff" stroke-width="4.6" stroke-linecap="round" stroke-linejoin="round"/>
<line x1="99.9" y1="1447" x2="99.9" y2="2431" stroke="#000" stroke-width="3.8" stroke-linecap="butt"/>
<line x1="99.9" y1="2422" x2="903.4" y2="2422" stroke="#000" stroke-width="3.8" stroke-linecap="butt"/>
<line x1="90.9" y1="2422" x2="99.9" y2="2422" stroke="#000" stroke-width="3.8" stroke-linecap="butt"/>
<text x="90.3" y="2433.7" font-size="34" text-anchor="end">0</text>
<line x1="90.9" y1="2259.66" x2="99.9" y2="2259.66" stroke="#000" stroke-width="3.8" stroke-linecap="butt"/>
<text x="90.3" y="2271.36" font-size="34" text-anchor="end">2</text>
<line x1="90.9" y1="2097.32" x2="99.9" y2="2097.32" stroke="#000" stroke-width="3.8" stroke-linecap="butt"/>
<text x="90.3" y="2109.02" font-size="34" text-anchor="end">4</text>
<line x1="90.9" y1="1934.98" x2="99.9" y2="1934.98" stroke="#000" stroke-width="3.8" stroke-linecap="butt"/>
<text x="90.3" y="1946.68" font-size="34" text-anchor="end">6</text>
<line x1="90.9" y1="1772.64" x2="99.9" y2="1772.64" stroke="#000" stroke-width="3.8" stroke-linecap="butt"/>
<text x="90.3" y="1784.34" font-size="34" text-anchor="end">8</text>
<line x1="90.9" y1="1610.3" x2="99.9" y2="1610.3" stroke="#000" stroke-width="3.8" stroke-linecap="butt"/>
<text x="90.3" y="1622" font-size="34" text-anchor="end">10</text>
<line x1="90.9" y1="1447.96" x2="99.9" y2="1447.96" stroke="#000" stroke-width="3.8" stroke-linecap="butt"/>
<text x="90.3" y="1459.66" font-size="34" text-anchor="end">12</text>
<line x1="99.9" y1="2422" x2="99.9" y2="2431" stroke="#000" stroke-width="3.8" stroke-linecap="butt"/>
<text x="99.9" y="2462.4" font-size="34" text-anchor="middle">3</text>
<line x1="204.75" y1="2422" x2="204.75" y2="2431" stroke="#000" stroke-width="3.8" stroke-linecap="butt"/>
<text x="204.75" y="2462.4" font-size="34" text-anchor="middle">6</text>
<line x1="309.6" y1="2422" x2="309.6" y2="2431" stroke="#000" stroke-width="3.8" stroke-linecap="butt"/>
<text x="309.6" y="2462.4" font-size="34" text-anchor="middle">9</text>
<line x1="414.45" y1="2422" x2="414.45" y2="2431" stroke="#000" stroke-width="3.8" stroke-linecap="butt"/>
<text x="414.45" y="2462.4" font-size="34" text-anchor="middle">12</text>
<line x1="519.3" y1="2422" x2="519.3" y2="2431" stroke="#000" stroke-width="3.8" stroke-linecap="butt"/>
<text x="519.3" y="2462.4" font-size="34" text-anchor="middle">15</text>
<line x1="624.15" y1="2422" x2="624.15" y2="2431" stroke="#000" stroke-width="3.8" stroke-linecap="butt"/>
<text x="624.15" y="2462.4" font-size="34" text-anchor="middle">18</text>
<line x1="729" y1="2422" x2="729" y2="2431" stroke="#000" stroke-width="3.8" stroke-linecap="butt"/>
<text x="729" y="2462.4" font-size="34" text-anchor="middle">21</text>
<line x1="833.85" y1="2422" x2="833.85" y2="2431" stroke="#000" stroke-width="3.8" stroke-linecap="butt"/>
<text x="833.85" y="2462.4" font-size="34" text-anchor="middle">24</text>
<text x="502.9" y="2504.3" font-size="33.2" text-anchor="middle">Days (post infection)</text>
<text x="0" y="0" font-size="33.2" text-anchor="middle" transform="translate(52 1926.3) rotate(-90)">Total Clinical Score</text>
<g fill="none" stroke="#00ee00" stroke-width="1.75">
<circle cx="169.8" cy="2016.15" r="8.4"/>
<circle cx="204.75" cy="1610.3" r="8.4"/>
<circle cx="204.75" cy="1691.47" r="8.4"/>
<circle cx="204.75" cy="1772.64" r="8.4"/>
<circle cx="204.75" cy="1934.98" r="8.4"/>
<circle cx="204.75" cy="2016.15" r="8.4"/>
<circle cx="204.75" cy="2178.49" r="8.4"/>
<circle cx="239.7" cy="1610.3" r="8.4"/>
</g>
<polyline points="99.9,2422 134.85,2422 169.8,2381.41 204.75,1813.22 239.7,1610.3" fill="none" stroke="#00ee00" stroke-width="3.8" stroke-linecap="round" stroke-linejoin="round"/>
<g fill="none" stroke="#ff2200" stroke-width="1.75">
<circle cx="554.25" cy="2422" r="8.4"/>
<circle cx="624.15" cy="2422" r="8.4"/>
<circle cx="694.05" cy="2422" r="8.4"/>
<circle cx="763.95" cy="1772.64" r="8.4"/>
<circle cx="763.95" cy="1853.81" r="8.4"/>
<circle cx="763.95" cy="2016.15" r="8.4"/>
<circle cx="763.95" cy="2340.83" r="8.4"/>
<circle cx="833.85" cy="1934.98" r="8.4"/>
</g>
<polyline points="99.9,2422 554.25,2422 624.15,2412.26 694.05,2373.3 763.95,2097.32 833.85,1879.78" fill="none" stroke="#ff2200" stroke-width="3.8" stroke-linecap="round" stroke-linejoin="round"/>
<g fill="none" stroke="#0630ff" stroke-width="1.75">
<circle cx="99.9" cy="2422" r="8.4"/>
<circle cx="134.85" cy="2422" r="8.4"/>
<circle cx="169.8" cy="2422" r="8.4"/>
<circle cx="204.75" cy="2422" r="8.4"/>
<circle cx="239.7" cy="2422" r="8.4"/>
<circle cx="274.65" cy="2422" r="8.4"/>
<circle cx="309.6" cy="2422" r="8.4"/>
<circle cx="344.55" cy="2422" r="8.4"/>
<circle cx="414.45" cy="2422" r="8.4"/>
<circle cx="484.35" cy="2422" r="8.4"/>
<circle cx="554.25" cy="2422" r="8.4"/>
<circle cx="624.15" cy="2422" r="8.4"/>
<circle cx="694.05" cy="2422" r="8.4"/>
<circle cx="763.95" cy="2422" r="8.4"/>
<circle cx="554.25" cy="2340.83" r="8.4"/>
<circle cx="554.25" cy="2259.66" r="8.4"/>
<circle cx="624.15" cy="2340.83" r="8.4"/>
<circle cx="624.15" cy="2259.66" r="8.4"/>
<circle cx="694.05" cy="2340.83" r="8.4"/>
<circle cx="694.05" cy="2259.66" r="8.4"/>
<circle cx="694.05" cy="2178.49" r="8.4"/>
<circle cx="694.05" cy="2097.32" r="8.4"/>
<circle cx="763.95" cy="2259.66" r="8.4"/>
<circle cx="763.95" cy="2178.49" r="8.4"/>
<circle cx="763.95" cy="2097.32" r="8.4"/>
<circle cx="833.85" cy="1853.81" r="8.4"/>
<circle cx="833.85" cy="1772.64" r="8.4"/>
<circle cx="833.85" cy="1771.02" r="8.4"/>
</g>
<polyline points="99.9,2422 484.35,2422 554.25,2373.3 624.15,2340.83 694.05,2286.45 763.95,2208.52 833.85,1801.86" fill="none" stroke="#0630ff" stroke-width="3.8" stroke-linecap="round" stroke-linejoin="round"/>
<line x1="1222.1" y1="1482" x2="1222.1" y2="2414.3" stroke="#000" stroke-width="3.8" stroke-linecap="butt"/>
<line x1="1222.1" y1="2404.5" x2="1985.7" y2="2404.5" stroke="#000" stroke-width="3.8" stroke-linecap="butt"/>
<line x1="1212.4" y1="2404.5" x2="1222.1" y2="2404.5" stroke="#000" stroke-width="3.8" stroke-linecap="butt"/>
<text font-size="36.5" text-anchor="end" transform="translate(1212 2417.06) scale(0.95 1)">0</text>
<line x1="1212.4" y1="2319.09" x2="1222.1" y2="2319.09" stroke="#000" stroke-width="3.8" stroke-linecap="butt"/>
<text font-size="36.5" text-anchor="end" transform="translate(1212 2331.65) scale(0.95 1)">10</text>
<line x1="1212.4" y1="2233.68" x2="1222.1" y2="2233.68" stroke="#000" stroke-width="3.8" stroke-linecap="butt"/>
<text font-size="36.5" text-anchor="end" transform="translate(1212 2246.24) scale(0.95 1)">20</text>
<line x1="1212.4" y1="2148.27" x2="1222.1" y2="2148.27" stroke="#000" stroke-width="3.8" stroke-linecap="butt"/>
<text font-size="36.5" text-anchor="end" transform="translate(1212 2160.83) scale(0.95 1)">30</text>
<line x1="1212.4" y1="2062.86" x2="1222.1" y2="2062.86" stroke="#000" stroke-width="3.8" stroke-linecap="butt"/>
<text font-size="36.5" text-anchor="end" transform="translate(1212 2075.42) scale(0.95 1)">40</text>
<line x1="1212.4" y1="1977.45" x2="1222.1" y2="1977.45" stroke="#000" stroke-width="3.8" stroke-linecap="butt"/>
<text font-size="36.5" text-anchor="end" transform="translate(1212 1990.01) scale(0.95 1)">50</text>
<line x1="1212.4" y1="1892.04" x2="1222.1" y2="1892.04" stroke="#000" stroke-width="3.8" stroke-linecap="butt"/>
<text font-size="36.5" text-anchor="end" transform="translate(1212 1904.6) scale(0.95 1)">60</text>
<line x1="1212.4" y1="1806.63" x2="1222.1" y2="1806.63" stroke="#000" stroke-width="3.8" stroke-linecap="butt"/>
<text font-size="36.5" text-anchor="end" transform="translate(1212 1819.19) scale(0.95 1)">70</text>
<line x1="1212.4" y1="1721.22" x2="1222.1" y2="1721.22" stroke="#000" stroke-width="3.8" stroke-linecap="butt"/>
<text font-size="36.5" text-anchor="end" transform="translate(1212 1733.78) scale(0.95 1)">80</text>
<line x1="1212.4" y1="1635.81" x2="1222.1" y2="1635.81" stroke="#000" stroke-width="3.8" stroke-linecap="butt"/>
<text font-size="36.5" text-anchor="end" transform="translate(1212 1648.37) scale(0.95 1)">90</text>
<line x1="1212.4" y1="1550.4" x2="1222.1" y2="1550.4" stroke="#000" stroke-width="3.8" stroke-linecap="butt"/>
<text font-size="36.5" text-anchor="end" transform="translate(1212 1562.96) scale(0.95 1)">100</text>
<line x1="1222.1" y1="2404.5" x2="1222.1" y2="2414.3" stroke="#000" stroke-width="3.8" stroke-linecap="butt"/>
<text font-size="36.5" text-anchor="middle" transform="translate(1222.1 2446.5) scale(0.95 1)">0</text>
<line x1="1349.35" y1="2404.5" x2="1349.35" y2="2414.3" stroke="#000" stroke-width="3.8" stroke-linecap="butt"/>
<text font-size="36.5" text-anchor="middle" transform="translate(1349.35 2446.5) scale(0.95 1)">5</text>
<line x1="1476.6" y1="2404.5" x2="1476.6" y2="2414.3" stroke="#000" stroke-width="3.8" stroke-linecap="butt"/>
<text font-size="36.5" text-anchor="middle" transform="translate(1476.6 2446.5) scale(0.95 1)">10</text>
<line x1="1603.85" y1="2404.5" x2="1603.85" y2="2414.3" stroke="#000" stroke-width="3.8" stroke-linecap="butt"/>
<text font-size="36.5" text-anchor="middle" transform="translate(1603.85 2446.5) scale(0.95 1)">15</text>
<line x1="1731.1" y1="2404.5" x2="1731.1" y2="2414.3" stroke="#000" stroke-width="3.8" stroke-linecap="butt"/>
<text font-size="36.5" text-anchor="middle" transform="translate(1731.1 2446.5) scale(0.95 1)">20</text>
<line x1="1858.35" y1="2404.5" x2="1858.35" y2="2414.3" stroke="#000" stroke-width="3.8" stroke-linecap="butt"/>
<text font-size="36.5" text-anchor="middle" transform="translate(1858.35 2446.5) scale(0.95 1)">25</text>
<line x1="1985.6" y1="2404.5" x2="1985.6" y2="2414.3" stroke="#000" stroke-width="3.8" stroke-linecap="butt"/>
<text font-size="36.5" text-anchor="middle" transform="translate(1985.6 2446.5) scale(0.95 1)">30</text>
<text x="1604.1" y="2491" font-size="35.5" text-anchor="middle">Days</text>
<text x="0" y="0" font-size="35" text-anchor="middle" transform="translate(1155.9 1933.5) rotate(-90)">Survival (%)</text>
<polyline points="1222.1,1550.4 1374.8,1550.4 1374.8,2148.27 1387.52,2148.27 1387.52,2233.68 1400.25,2233.68 1400.25,2404.5" fill="none" stroke="#00ee00" stroke-width="5" stroke-linecap="round" stroke-linejoin="miter"/>
<polyline points="1222.1,1550.4 1782,1550.4 1782,1783.57 1883.8,1783.57 1883.8,2404.5" fill="none" stroke="#ff2200" stroke-width="5" stroke-linecap="round" stroke-linejoin="miter"/>
<polyline points="1222.1,1550.4 1731.1,1550.4 1731.1,1645.21 1756.55,1645.21 1756.55,1740.01 1858.35,1740.01 1858.35,2025.28 1883.8,2025.28 1883.8,2404.5" fill="none" stroke="#0630ff" stroke-width="5" stroke-linecap="round" stroke-linejoin="miter"/>
<rect x="257" y="1272.3" width="139" height="11.8" fill="#05ec05"/>
<rect x="814.4" y="1272.3" width="139" height="11.8" fill="#ed1c24"/>
<rect x="1367" y="1272.3" width="139.3" height="11.8" fill="#2e3192"/>
<text x="413.5" y="1296.9" font-size="46"><tspan font-style="italic">Pb</tspan>ANKA<tspan font-size="26" dy="-15.5">F</tspan></text>
<text x="968.5" y="1296.9" font-size="46"><tspan font-style="italic">Pb</tspan>NK65<tspan font-size="26" dy="-15.5">S</tspan></text>
<text x="1523.5" y="1296.9" font-size="46"><tspan font-style="italic">Pb</tspan>NK65<tspan font-size="26" dy="-15.5">F</tspan></text>
</svg></body></html>
